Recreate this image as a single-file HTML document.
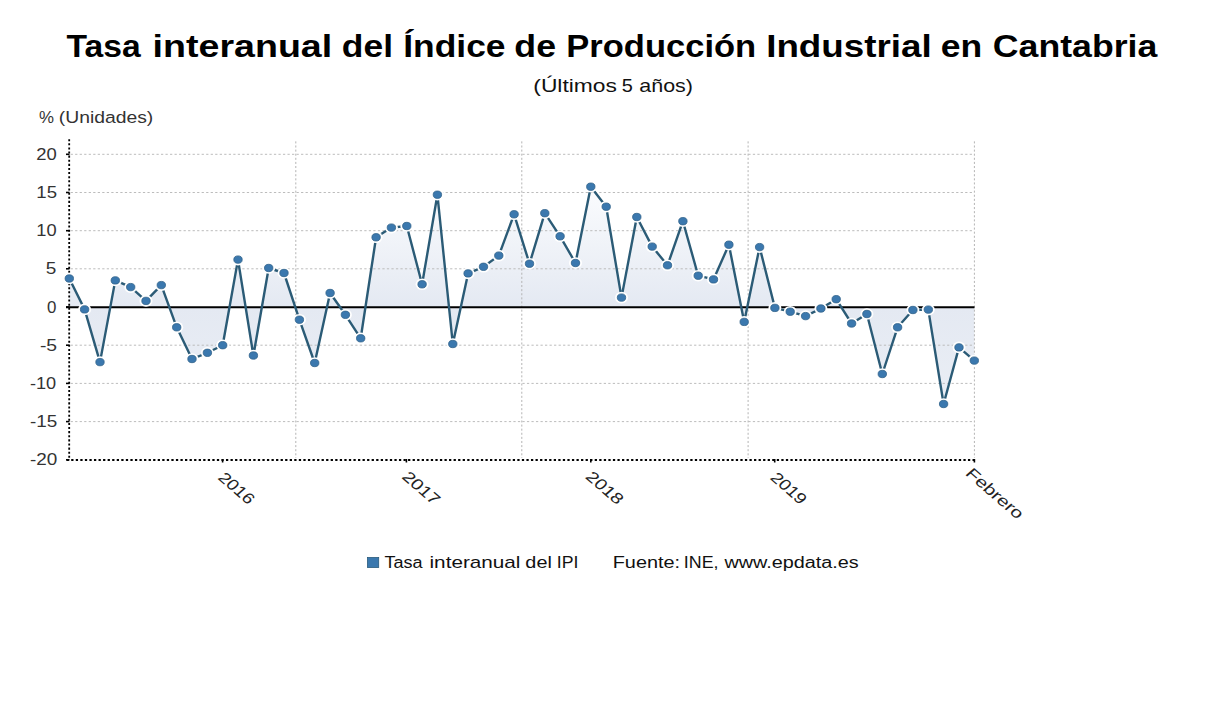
<!DOCTYPE html>
<html><head><meta charset="utf-8"><style>
html,body{margin:0;padding:0;background:#fff;}
svg{display:block;font-family:"Liberation Sans",sans-serif;}
</style></head><body>
<svg width="1226" height="720" viewBox="0 0 1226 720">
<defs>
<linearGradient id="g" gradientUnits="userSpaceOnUse" x1="0" y1="186" x2="0" y2="404">
<stop offset="0" stop-color="#fbfcfe"/><stop offset="0.555" stop-color="#e4e9f2"/><stop offset="1" stop-color="#eaeef5"/>
</linearGradient>
</defs>
<rect width="1226" height="720" fill="#fff"/>
<path d="M69.3,307.0 L69.3,278.5 L84.6,309.4 L100.0,362.1 L115.3,280.4 L130.7,287.1 L146.0,300.9 L161.3,285.1 L176.7,327.3 L192.0,359.0 L207.4,352.8 L222.7,345.2 L238.0,259.6 L253.4,355.5 L268.7,268.0 L284.0,273.0 L299.4,319.7 L314.7,363.0 L330.1,293.0 L345.4,314.8 L360.7,338.3 L376.1,237.3 L391.4,227.6 L406.8,226.0 L422.1,284.3 L437.4,194.7 L452.8,344.0 L468.1,273.4 L483.5,266.8 L498.8,255.6 L514.1,214.3 L529.5,263.7 L544.8,213.2 L560.1,236.3 L575.5,263.0 L590.8,186.7 L606.2,206.7 L621.5,297.6 L636.8,217.0 L652.2,246.6 L667.5,265.3 L682.9,221.2 L698.2,275.7 L713.5,279.4 L728.9,244.7 L744.2,321.9 L759.6,247.1 L774.9,307.9 L790.2,311.7 L805.6,316.1 L820.9,308.5 L836.2,299.2 L851.6,323.5 L866.9,314.0 L882.3,374.0 L897.6,327.3 L912.9,310.0 L928.3,309.6 L943.6,404.0 L959.0,347.4 L974.3,360.6 L974.3,307.0 Z" fill="url(#g)"/>
<g stroke="#bcbcbc" stroke-width="1" stroke-dasharray="2.259,2.259">
<line x1="70.62" y1="154.3" x2="973" y2="154.3"/>
<line x1="70.62" y1="192.5" x2="973" y2="192.5"/>
<line x1="70.62" y1="230.7" x2="973" y2="230.7"/>
<line x1="70.62" y1="268.8" x2="973" y2="268.8"/>
<line x1="70.62" y1="345.2" x2="973" y2="345.2"/>
<line x1="70.62" y1="383.4" x2="973" y2="383.4"/>
<line x1="70.62" y1="421.6" x2="973" y2="421.6"/>
</g>
<g stroke="#b4b4b4" stroke-width="1" stroke-dasharray="2.052,2.052">
<line x1="295.8" y1="141.37" x2="295.8" y2="458"/>
<line x1="521.8" y1="141.37" x2="521.8" y2="458"/>
<line x1="748.1" y1="141.37" x2="748.1" y2="458"/>
<line x1="974.4" y1="141.37" x2="974.4" y2="458"/>
</g>
<line x1="66" y1="307.2" x2="974.5" y2="307.2" stroke="#000" stroke-width="2"/>
<g stroke="#000" stroke-width="1.6">
<line x1="69.2" y1="139.17" x2="69.2" y2="458" stroke-dasharray="2.056,2.056" stroke-width="1.8"/>
<line x1="66.66" y1="460" x2="974.8" y2="460" stroke-dasharray="2.276,2.276" stroke-width="2"/>
<line x1="66" y1="154.3" x2="69.5" y2="154.3"/>
<line x1="66" y1="192.5" x2="69.5" y2="192.5"/>
<line x1="66" y1="230.7" x2="69.5" y2="230.7"/>
<line x1="66" y1="268.8" x2="69.5" y2="268.8"/>
<line x1="66" y1="307.0" x2="69.5" y2="307.0"/>
<line x1="66" y1="345.2" x2="69.5" y2="345.2"/>
<line x1="66" y1="383.4" x2="69.5" y2="383.4"/>
<line x1="66" y1="421.6" x2="69.5" y2="421.6"/>
<line x1="66" y1="459.8" x2="69.5" y2="459.8"/>
<line x1="222.6" y1="459" x2="222.6" y2="462.5"/>
<line x1="406.4" y1="459" x2="406.4" y2="462.5"/>
<line x1="590.8" y1="459" x2="590.8" y2="462.5"/>
<line x1="774.7" y1="459" x2="774.7" y2="462.5"/>
<line x1="974.4" y1="459" x2="974.4" y2="462.5"/>
</g>
<path d="M69.3,278.5 L84.6,309.4 L100.0,362.1 L115.3,280.4 L130.7,287.1 L146.0,300.9 L161.3,285.1 L176.7,327.3 L192.0,359.0 L207.4,352.8 L222.7,345.2 L238.0,259.6 L253.4,355.5 L268.7,268.0 L284.0,273.0 L299.4,319.7 L314.7,363.0 L330.1,293.0 L345.4,314.8 L360.7,338.3 L376.1,237.3 L391.4,227.6 L406.8,226.0 L422.1,284.3 L437.4,194.7 L452.8,344.0 L468.1,273.4 L483.5,266.8 L498.8,255.6 L514.1,214.3 L529.5,263.7 L544.8,213.2 L560.1,236.3 L575.5,263.0 L590.8,186.7 L606.2,206.7 L621.5,297.6 L636.8,217.0 L652.2,246.6 L667.5,265.3 L682.9,221.2 L698.2,275.7 L713.5,279.4 L728.9,244.7 L744.2,321.9 L759.6,247.1 L774.9,307.9 L790.2,311.7 L805.6,316.1 L820.9,308.5 L836.2,299.2 L851.6,323.5 L866.9,314.0 L882.3,374.0 L897.6,327.3 L912.9,310.0 L928.3,309.6 L943.6,404.0 L959.0,347.4 L974.3,360.6" fill="none" stroke="#2b5b76" stroke-width="2.4" stroke-linejoin="round"/>
<g fill="#fff">
<ellipse cx="69.3" cy="278.5" rx="6.5" ry="5.8"/>
<ellipse cx="84.6" cy="309.4" rx="6.5" ry="5.8"/>
<ellipse cx="100.0" cy="362.1" rx="6.5" ry="5.8"/>
<ellipse cx="115.3" cy="280.4" rx="6.5" ry="5.8"/>
<ellipse cx="130.7" cy="287.1" rx="6.5" ry="5.8"/>
<ellipse cx="146.0" cy="300.9" rx="6.5" ry="5.8"/>
<ellipse cx="161.3" cy="285.1" rx="6.5" ry="5.8"/>
<ellipse cx="176.7" cy="327.3" rx="6.5" ry="5.8"/>
<ellipse cx="192.0" cy="359.0" rx="6.5" ry="5.8"/>
<ellipse cx="207.4" cy="352.8" rx="6.5" ry="5.8"/>
<ellipse cx="222.7" cy="345.2" rx="6.5" ry="5.8"/>
<ellipse cx="238.0" cy="259.6" rx="6.5" ry="5.8"/>
<ellipse cx="253.4" cy="355.5" rx="6.5" ry="5.8"/>
<ellipse cx="268.7" cy="268.0" rx="6.5" ry="5.8"/>
<ellipse cx="284.0" cy="273.0" rx="6.5" ry="5.8"/>
<ellipse cx="299.4" cy="319.7" rx="6.5" ry="5.8"/>
<ellipse cx="314.7" cy="363.0" rx="6.5" ry="5.8"/>
<ellipse cx="330.1" cy="293.0" rx="6.5" ry="5.8"/>
<ellipse cx="345.4" cy="314.8" rx="6.5" ry="5.8"/>
<ellipse cx="360.7" cy="338.3" rx="6.5" ry="5.8"/>
<ellipse cx="376.1" cy="237.3" rx="6.5" ry="5.8"/>
<ellipse cx="391.4" cy="227.6" rx="6.5" ry="5.8"/>
<ellipse cx="406.8" cy="226.0" rx="6.5" ry="5.8"/>
<ellipse cx="422.1" cy="284.3" rx="6.5" ry="5.8"/>
<ellipse cx="437.4" cy="194.7" rx="6.5" ry="5.8"/>
<ellipse cx="452.8" cy="344.0" rx="6.5" ry="5.8"/>
<ellipse cx="468.1" cy="273.4" rx="6.5" ry="5.8"/>
<ellipse cx="483.5" cy="266.8" rx="6.5" ry="5.8"/>
<ellipse cx="498.8" cy="255.6" rx="6.5" ry="5.8"/>
<ellipse cx="514.1" cy="214.3" rx="6.5" ry="5.8"/>
<ellipse cx="529.5" cy="263.7" rx="6.5" ry="5.8"/>
<ellipse cx="544.8" cy="213.2" rx="6.5" ry="5.8"/>
<ellipse cx="560.1" cy="236.3" rx="6.5" ry="5.8"/>
<ellipse cx="575.5" cy="263.0" rx="6.5" ry="5.8"/>
<ellipse cx="590.8" cy="186.7" rx="6.5" ry="5.8"/>
<ellipse cx="606.2" cy="206.7" rx="6.5" ry="5.8"/>
<ellipse cx="621.5" cy="297.6" rx="6.5" ry="5.8"/>
<ellipse cx="636.8" cy="217.0" rx="6.5" ry="5.8"/>
<ellipse cx="652.2" cy="246.6" rx="6.5" ry="5.8"/>
<ellipse cx="667.5" cy="265.3" rx="6.5" ry="5.8"/>
<ellipse cx="682.9" cy="221.2" rx="6.5" ry="5.8"/>
<ellipse cx="698.2" cy="275.7" rx="6.5" ry="5.8"/>
<ellipse cx="713.5" cy="279.4" rx="6.5" ry="5.8"/>
<ellipse cx="728.9" cy="244.7" rx="6.5" ry="5.8"/>
<ellipse cx="744.2" cy="321.9" rx="6.5" ry="5.8"/>
<ellipse cx="759.6" cy="247.1" rx="6.5" ry="5.8"/>
<ellipse cx="774.9" cy="307.9" rx="6.5" ry="5.8"/>
<ellipse cx="790.2" cy="311.7" rx="6.5" ry="5.8"/>
<ellipse cx="805.6" cy="316.1" rx="6.5" ry="5.8"/>
<ellipse cx="820.9" cy="308.5" rx="6.5" ry="5.8"/>
<ellipse cx="836.2" cy="299.2" rx="6.5" ry="5.8"/>
<ellipse cx="851.6" cy="323.5" rx="6.5" ry="5.8"/>
<ellipse cx="866.9" cy="314.0" rx="6.5" ry="5.8"/>
<ellipse cx="882.3" cy="374.0" rx="6.5" ry="5.8"/>
<ellipse cx="897.6" cy="327.3" rx="6.5" ry="5.8"/>
<ellipse cx="912.9" cy="310.0" rx="6.5" ry="5.8"/>
<ellipse cx="928.3" cy="309.6" rx="6.5" ry="5.8"/>
<ellipse cx="943.6" cy="404.0" rx="6.5" ry="5.8"/>
<ellipse cx="959.0" cy="347.4" rx="6.5" ry="5.8"/>
<ellipse cx="974.3" cy="360.6" rx="6.5" ry="5.8"/>
</g>
<g fill="#3b78ae" stroke="#2f6189" stroke-width="0.8">
<ellipse cx="69.3" cy="278.5" rx="4.2" ry="3.7"/>
<ellipse cx="84.6" cy="309.4" rx="4.2" ry="3.7"/>
<ellipse cx="100.0" cy="362.1" rx="4.2" ry="3.7"/>
<ellipse cx="115.3" cy="280.4" rx="4.2" ry="3.7"/>
<ellipse cx="130.7" cy="287.1" rx="4.2" ry="3.7"/>
<ellipse cx="146.0" cy="300.9" rx="4.2" ry="3.7"/>
<ellipse cx="161.3" cy="285.1" rx="4.2" ry="3.7"/>
<ellipse cx="176.7" cy="327.3" rx="4.2" ry="3.7"/>
<ellipse cx="192.0" cy="359.0" rx="4.2" ry="3.7"/>
<ellipse cx="207.4" cy="352.8" rx="4.2" ry="3.7"/>
<ellipse cx="222.7" cy="345.2" rx="4.2" ry="3.7"/>
<ellipse cx="238.0" cy="259.6" rx="4.2" ry="3.7"/>
<ellipse cx="253.4" cy="355.5" rx="4.2" ry="3.7"/>
<ellipse cx="268.7" cy="268.0" rx="4.2" ry="3.7"/>
<ellipse cx="284.0" cy="273.0" rx="4.2" ry="3.7"/>
<ellipse cx="299.4" cy="319.7" rx="4.2" ry="3.7"/>
<ellipse cx="314.7" cy="363.0" rx="4.2" ry="3.7"/>
<ellipse cx="330.1" cy="293.0" rx="4.2" ry="3.7"/>
<ellipse cx="345.4" cy="314.8" rx="4.2" ry="3.7"/>
<ellipse cx="360.7" cy="338.3" rx="4.2" ry="3.7"/>
<ellipse cx="376.1" cy="237.3" rx="4.2" ry="3.7"/>
<ellipse cx="391.4" cy="227.6" rx="4.2" ry="3.7"/>
<ellipse cx="406.8" cy="226.0" rx="4.2" ry="3.7"/>
<ellipse cx="422.1" cy="284.3" rx="4.2" ry="3.7"/>
<ellipse cx="437.4" cy="194.7" rx="4.2" ry="3.7"/>
<ellipse cx="452.8" cy="344.0" rx="4.2" ry="3.7"/>
<ellipse cx="468.1" cy="273.4" rx="4.2" ry="3.7"/>
<ellipse cx="483.5" cy="266.8" rx="4.2" ry="3.7"/>
<ellipse cx="498.8" cy="255.6" rx="4.2" ry="3.7"/>
<ellipse cx="514.1" cy="214.3" rx="4.2" ry="3.7"/>
<ellipse cx="529.5" cy="263.7" rx="4.2" ry="3.7"/>
<ellipse cx="544.8" cy="213.2" rx="4.2" ry="3.7"/>
<ellipse cx="560.1" cy="236.3" rx="4.2" ry="3.7"/>
<ellipse cx="575.5" cy="263.0" rx="4.2" ry="3.7"/>
<ellipse cx="590.8" cy="186.7" rx="4.2" ry="3.7"/>
<ellipse cx="606.2" cy="206.7" rx="4.2" ry="3.7"/>
<ellipse cx="621.5" cy="297.6" rx="4.2" ry="3.7"/>
<ellipse cx="636.8" cy="217.0" rx="4.2" ry="3.7"/>
<ellipse cx="652.2" cy="246.6" rx="4.2" ry="3.7"/>
<ellipse cx="667.5" cy="265.3" rx="4.2" ry="3.7"/>
<ellipse cx="682.9" cy="221.2" rx="4.2" ry="3.7"/>
<ellipse cx="698.2" cy="275.7" rx="4.2" ry="3.7"/>
<ellipse cx="713.5" cy="279.4" rx="4.2" ry="3.7"/>
<ellipse cx="728.9" cy="244.7" rx="4.2" ry="3.7"/>
<ellipse cx="744.2" cy="321.9" rx="4.2" ry="3.7"/>
<ellipse cx="759.6" cy="247.1" rx="4.2" ry="3.7"/>
<ellipse cx="774.9" cy="307.9" rx="4.2" ry="3.7"/>
<ellipse cx="790.2" cy="311.7" rx="4.2" ry="3.7"/>
<ellipse cx="805.6" cy="316.1" rx="4.2" ry="3.7"/>
<ellipse cx="820.9" cy="308.5" rx="4.2" ry="3.7"/>
<ellipse cx="836.2" cy="299.2" rx="4.2" ry="3.7"/>
<ellipse cx="851.6" cy="323.5" rx="4.2" ry="3.7"/>
<ellipse cx="866.9" cy="314.0" rx="4.2" ry="3.7"/>
<ellipse cx="882.3" cy="374.0" rx="4.2" ry="3.7"/>
<ellipse cx="897.6" cy="327.3" rx="4.2" ry="3.7"/>
<ellipse cx="912.9" cy="310.0" rx="4.2" ry="3.7"/>
<ellipse cx="928.3" cy="309.6" rx="4.2" ry="3.7"/>
<ellipse cx="943.6" cy="404.0" rx="4.2" ry="3.7"/>
<ellipse cx="959.0" cy="347.4" rx="4.2" ry="3.7"/>
<ellipse cx="974.3" cy="360.6" rx="4.2" ry="3.7"/>
</g>
<text transform="translate(66.47,57.3) scale(1.0854,1)" font-size="31" font-weight="bold" fill="#000">Tasa</text>
<text transform="translate(152.62,57.3) scale(1.2125,1)" font-size="31" font-weight="bold" fill="#000">interanual</text>
<text transform="translate(341.82,57.3) scale(1.1434,1)" font-size="31" font-weight="bold" fill="#000">del</text>
<text transform="translate(403.25,57.3) scale(1.1426,1)" font-size="31" font-weight="bold" fill="#000">Índice</text>
<text transform="translate(514.35,57.3) scale(1.1533,1)" font-size="31" font-weight="bold" fill="#000">de</text>
<text transform="translate(566.31,57.3) scale(1.1138,1)" font-size="31" font-weight="bold" fill="#000">Producción</text>
<text transform="translate(766.18,57.3) scale(1.1869,1)" font-size="31" font-weight="bold" fill="#000">Industrial</text>
<text transform="translate(940.75,57.3) scale(1.1458,1)" font-size="31" font-weight="bold" fill="#000">en</text>
<text transform="translate(992.82,57.3) scale(1.1507,1)" font-size="31" font-weight="bold" fill="#000">Cantabria</text>
<text transform="translate(533.30,92.4) scale(1.2678,1)" font-size="18" fill="#111">(Últimos</text>
<text transform="translate(621.83,92.4) scale(1.1055,1)" font-size="18" fill="#111">5</text>
<text transform="translate(639.33,92.4) scale(1.1908,1)" font-size="18" fill="#111">años)</text>
<text transform="translate(38.94,123.4) scale(1.0219,1)" font-size="16.5" fill="#333">%</text>
<text transform="translate(58.75,123.4) scale(1.1721,1)" font-size="16.5" fill="#333">(Unidades)</text>
<text transform="translate(384.42,567.6) scale(1.1282,1)" font-size="16" fill="#111">Tasa</text>
<text transform="translate(429.52,567.6) scale(1.2942,1)" font-size="16" fill="#111">interanual</text>
<text transform="translate(525.37,567.6) scale(1.2405,1)" font-size="16" fill="#111">del</text>
<text transform="translate(556.84,567.6) scale(1.1070,1)" font-size="16" fill="#111">IPI</text>
<text transform="translate(612.70,567.6) scale(1.2426,1)" font-size="16" fill="#111">Fuente:</text>
<text transform="translate(683.84,567.6) scale(1.1146,1)" font-size="16" fill="#111">INE,</text>
<text transform="translate(724.38,567.6) scale(1.2389,1)" font-size="16" fill="#111">www.epdata.es</text>
<text transform="translate(36.26,159.8) scale(1.1530,1)" font-size="16" fill="#333">20</text>
<text transform="translate(36.32,197.8) scale(1.1637,1)" font-size="16" fill="#333">15</text>
<text transform="translate(36.25,236.1) scale(1.1422,1)" font-size="16" fill="#333">10</text>
<text transform="translate(45.84,274.3) scale(1.1871,1)" font-size="16" fill="#333">5</text>
<text transform="translate(46.93,312.5) scale(1.0552,1)" font-size="16" fill="#333">0</text>
<text transform="translate(39.93,350.7) scale(1.2104,1)" font-size="16" fill="#333">-5</text>
<text transform="translate(29.97,388.9) scale(1.1364,1)" font-size="16" fill="#333">-10</text>
<text transform="translate(29.95,427.1) scale(1.1827,1)" font-size="16" fill="#333">-15</text>
<text transform="translate(29.95,465.3) scale(1.1827,1)" font-size="16" fill="#333">-20</text>
<g font-size="15" fill="#222">
<text transform="translate(217.00,478.40) scale(1.15,1) rotate(45) scale(1.1400,1)">2016</text>
<text transform="translate(401.00,477.40) scale(1.15,1) rotate(45) scale(1.1942,1)">2017</text>
<text transform="translate(584.60,477.40) scale(1.15,1) rotate(45) scale(1.1853,1)">2018</text>
<text transform="translate(769.20,478.40) scale(1.15,1) rotate(45) scale(1.1391,1)">2019</text>
<text transform="translate(964.50,474.20) scale(1.15,1) rotate(45) scale(1.2291,1)">Febrero</text>
</g>
<rect x="367.5" y="557.5" width="11.2" height="10" fill="#3a78ae" stroke="#285a7c" stroke-width="0.8"/>
</svg>
</body></html>
